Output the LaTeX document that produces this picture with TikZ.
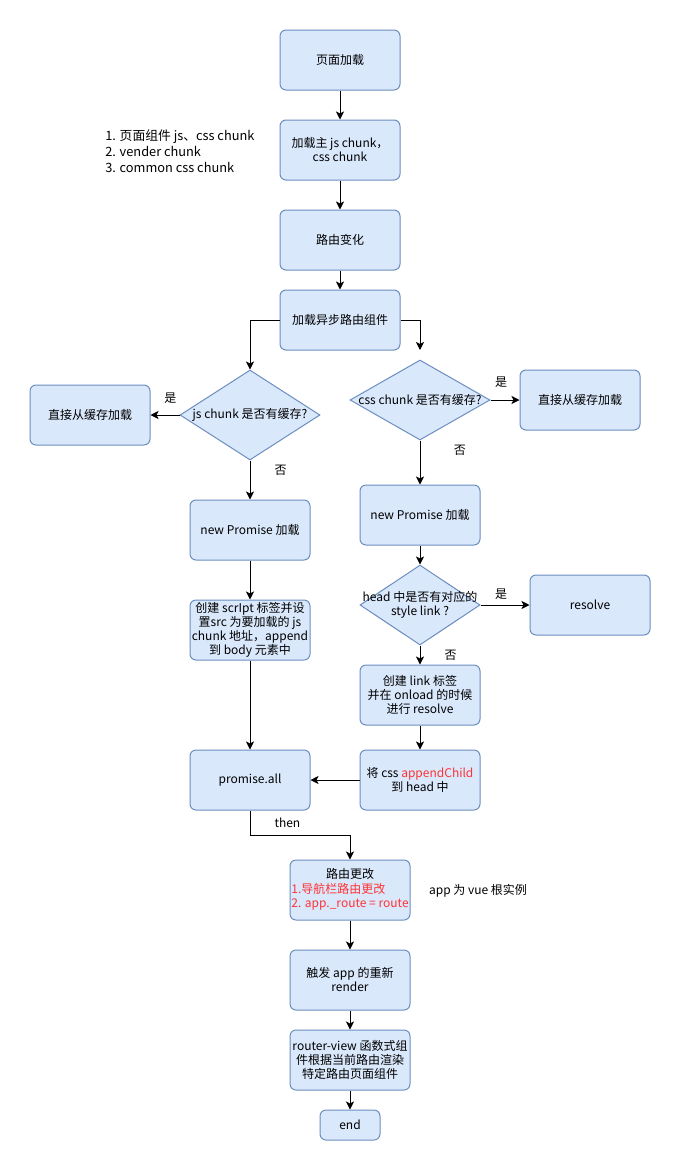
\documentclass[tikz,border=0pt]{standalone}
\usepackage{fontspec}
\setmainfont{Noto Sans CJK SC}
\usetikzlibrary{shapes.geometric,arrows.meta}

\definecolor{boxfill}{HTML}{DAE8FC}
\definecolor{boxline}{HTML}{6C8EBF}
\definecolor{hot}{HTML}{FF3333}

\tikzset{
	box/.style={rectangle, rounded corners=4.5pt, draw=boxline, fill=boxfill, line width=0.75pt,
		minimum width=90pt, minimum height=45pt, inner sep=1pt, align=center},
	decision/.style={diamond, draw=boxline, fill=boxfill, line width=0.75pt, inner sep=0pt},
	flow/.style={line width=0.75pt, -{Stealth[length=6pt,width=6pt,inset=1.5pt]}},
	tag/.style={inner sep=0pt}
}

\begin{document}
\begin{tikzpicture}[x=0.75pt, y=-0.75pt, font=\fontsize{9}{10.5}\selectfont]
		\useasboundingbox (0,0) rectangle (681,1171);

		% main column
		\node[box] (load) at (340,60) {页面加载};
		\node[box] (main) at (340,150) {加载主 js chunk，\\css chunk};
		\node[tag, anchor=west, align=left, font=\fontsize{9.6}{12}\selectfont] (note) at (105,151)
			{1. 页面组件 js、css chunk\\2. vender chunk\\3. common css chunk};
		\node[box] (route) at (340,240) {路由变化};
		\node[box] (async) at (340,320) {加载异步路由组件};

		% js side
		\node[decision, minimum width=105pt, minimum height=67.5pt,
			label={center:js chunk 是否有缓存?}] (jsq) at (250,415) {};
		\node[box] (jscache) at (90,415) {直接从缓存加载};
		\node[box] (jspromise) at (250,530) {new Promise 加载};
		\node[box] (script) at (250,630) {创建 scrIpt 标签并设\\置src 为要加载的 js\\chunk 地址，append\\到 body 元素中};
		\node[box] (all) at (250,780) {promise.all};

		% css side
		\coordinate (cssin) at (420,350);
		\node[decision, minimum width=105pt, minimum height=60pt,
			label={center:css chunk 是否有缓存?}] (cssq) at (420,400) {};
		\node[box] (csscache) at (580,400) {直接从缓存加载};
		\node[box] (csspromise) at (420,515) {new Promise 加载};
		\node[decision, minimum width=90pt, minimum height=60pt,
			label={[align=center]center:head 中是否有对应的\\style link ?}] (headq) at (420,605) {};
		\node[box] (resolve) at (590,605) {resolve};
		\node[box] (link) at (420,695) {创建 link 标签\\并在 onload 的时候\\进行 resolve};
		\node[box] (append) at (420,780) {将 css \textcolor{hot}{appendChild}\\到 head 中};

		% after loading
		\node[box] (change) at (350,890) {\begin{tabular}{@{}l@{}}\multicolumn{1}{@{}c@{}}{路由更改}\\
			\textcolor{hot}{1.导航栏路由更改}\\\textcolor{hot}{2. app.\_route = route}\end{tabular}};
		\node[tag] (appnote) at (478,891) {app 为 vue 根实例};
		\node[box] (render) at (350,980) {触发 app 的重新\\render};
		\node[box] (view) at (350,1060) {router-view 函数式组\\件根据当前路由渲染\\特定路由页面组件};
		\node[box, minimum width=45pt, minimum height=22.5pt] (done) at (350,1125) {end};

		\draw[flow] (load) -- (main);
		\draw[flow] (main) -- (route);
		\draw[flow] (route) -- (async);
		\draw[flow] (async.west) -| (jsq.north);
		\draw[flow] (async.east) -| (cssin);

		\draw[flow] (jsq.west) -- node[tag, above=8pt, xshift=4pt] (yesjs) {是} (jscache.east);
		\draw[flow] (jsq.south) -- node[tag, right=18pt, yshift=7pt] (nojs) {否} (jspromise.north);
		\draw[flow] (jspromise) -- (script);
		\draw[flow] (script) -- (all);

		\draw[flow] (cssq.east) -- node[tag, above=9pt, xshift=-3pt] (yescss) {是} (csscache.west);
		\draw[flow] (cssq.south) -- node[tag, right=25pt, yshift=9pt] (nocss) {否} (csspromise.north);
		\draw[flow] (csspromise) -- (headq.north);
		\draw[flow] (headq.east) -- node[tag, above=4pt, xshift=-3pt] (yeshead) {是} (resolve.west);
		\draw[flow] (headq.south) -- node[tag, right=18pt] (nohead) {否} (link.north);
		\draw[flow] (link) -- (append);
		\draw[flow] (append) -- (all);

		\draw[flow] (all.south) -- ++(0,25) node[tag, pos=0.5, right=18pt] (thenlbl) {then} -| (change.north);
		\draw[flow] (change) -- (render);
		\draw[flow] (render) -- (view);
		\draw[flow] (view) -- (done);
	\end{tikzpicture}
\end{document}
